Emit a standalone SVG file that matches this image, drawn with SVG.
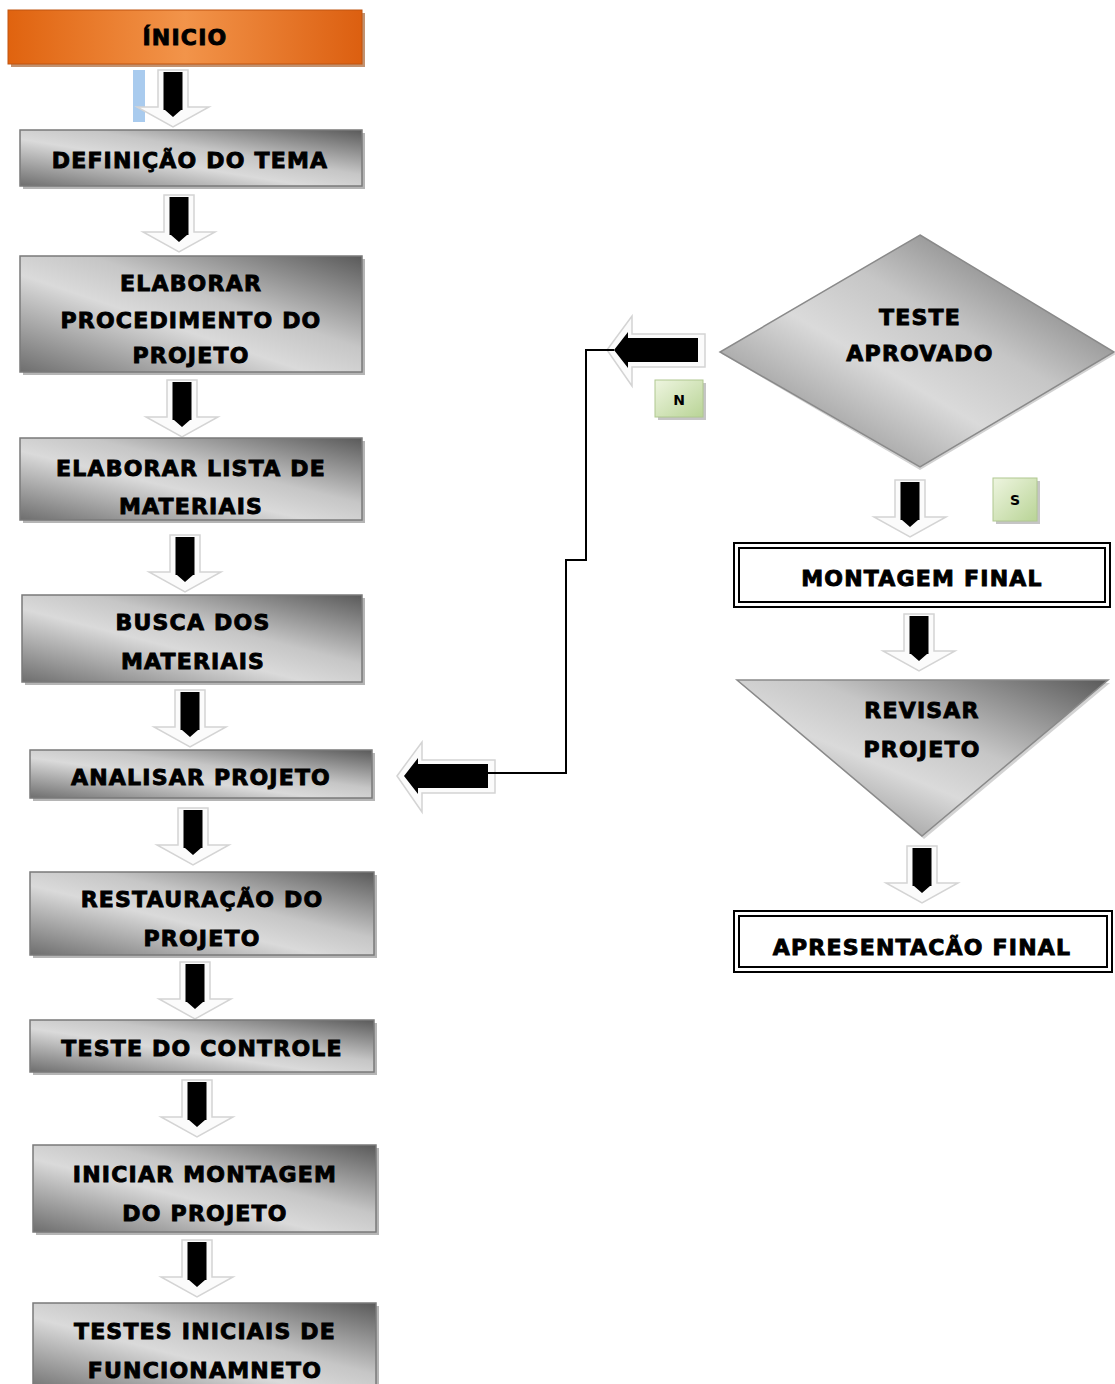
<svg xmlns="http://www.w3.org/2000/svg" width="1115" height="1384" viewBox="0 0 1115 1384">
<defs>
<linearGradient id="gray" x1="0" y1="1" x2="1" y2="0">
<stop offset="0" stop-color="#6e6e6e"/>
<stop offset="0.42" stop-color="#dadada"/>
<stop offset="0.6" stop-color="#c6c6c6"/>
<stop offset="1" stop-color="#5a5a5a"/>
</linearGradient>
<linearGradient id="orange" x1="0" y1="0" x2="1" y2="0">
<stop offset="0" stop-color="#e0630f"/>
<stop offset="0.5" stop-color="#f2944a"/>
<stop offset="1" stop-color="#dc5f10"/>
</linearGradient>
<linearGradient id="green" x1="0" y1="0" x2="1" y2="1">
<stop offset="0" stop-color="#eef5e0"/>
<stop offset="1" stop-color="#b9d496"/>
</linearGradient>
<g id="darr">
<path d="M-15,0 H15 V37 H36 L0,57 L-36,37 H-15 Z" fill="#fbfbfb" stroke="#d4d4d4" stroke-width="1.5"/>
<path d="M-9.5,2 H9.5 V40 H8 L0,47 L-8,40 H-9.5 Z" fill="#000"/>
</g>
<g id="larr">
<path d="M0,0 L25,-34 V-16 H98 V17 H25 V36 Z" fill="#fbfbfb" stroke="#d4d4d4" stroke-width="1.5"/>
<path d="M7,0 L21,-18 V-12 H91 V12 H21 V18 Z" fill="#000"/>
</g>
</defs>
<style>
.box{fill:url(#gray);stroke:#7a7a7a;stroke-width:1.5}
.sh{fill:#b5b5b5}
.t{font-family:"DejaVu Sans",Verdana,sans-serif;font-weight:bold;font-size:22px;fill:#000;stroke:#000;stroke-width:0.9;text-anchor:middle;letter-spacing:1.2px}
.s{font-family:"DejaVu Sans",sans-serif;font-weight:bold;font-size:14px;fill:#000;text-anchor:middle}
.dbl{fill:#fff;stroke:#000;stroke-width:2}
.ln{fill:none;stroke:#000;stroke-width:2}
</style>
<rect width="1115" height="1384" fill="#fff"/>

<g id="connectors">
<rect x="133" y="70" width="12" height="52" fill="#a9cbee"/>
<use href="#darr" x="173" y="70"/>
<use href="#darr" x="179" y="195"/>
<use href="#darr" x="182" y="380"/>
<use href="#darr" x="185" y="535"/>
<use href="#darr" x="190" y="690"/>
<use href="#darr" x="193" y="808"/>
<use href="#darr" x="195" y="962"/>
<use href="#darr" x="197" y="1080"/>
<use href="#darr" x="197" y="1240"/>
<use href="#darr" x="910" y="480"/>
<use href="#darr" x="919" y="614"/>
<use href="#darr" x="922" y="846"/>
<use href="#larr" x="607" y="350"/>
<use href="#larr" x="397" y="776"/>
<polyline class="ln" points="614,350 586,350 586,560 566,560 566,773 488,773"/>
</g>

<g id="inicio">
<rect x="11" y="13" width="354" height="54" fill="#9a4a10" opacity="0.6"/>
<rect x="8" y="10" width="354" height="54" fill="url(#orange)" stroke="#c05510" stroke-width="1"/>
<text class="t" x="185" y="45">ÍNICIO</text>
</g>
<g id="definicao">
<rect class="sh" x="23" y="133" width="342" height="56"/>
<rect class="box" x="20" y="130" width="342" height="56"/>
<text class="t" x="190" y="168">DEFINIÇÃO DO TEMA</text>
</g>
<g id="procedimento">
<rect class="sh" x="23" y="259" width="342" height="116"/>
<rect class="box" x="20" y="256" width="342" height="116"/>
<text class="t" x="191" y="291">ELABORAR</text>
<text class="t" x="191" y="328">PROCEDIMENTO  DO</text>
<text class="t" x="191" y="363">PROJETO</text>
</g>
<g id="lista">
<rect class="sh" x="23" y="441" width="342" height="82"/>
<rect class="box" x="20" y="438" width="342" height="82"/>
<text class="t" x="191" y="476">ELABORAR LISTA DE</text>
<text class="t" x="191" y="514">MATERIAIS</text>
</g>
<g id="busca">
<rect class="sh" x="25" y="598" width="340" height="87"/>
<rect class="box" x="22" y="595" width="340" height="87"/>
<text class="t" x="193" y="630">BUSCA DOS</text>
<text class="t" x="193" y="669">MATERIAIS</text>
</g>
<g id="analisar">
<rect class="sh" x="33" y="753" width="342" height="48"/>
<rect class="box" x="30" y="750" width="342" height="48"/>
<text class="t" x="201" y="785">ANALISAR PROJETO</text>
</g>
<g id="restauracao">
<rect class="sh" x="33" y="875" width="344" height="83"/>
<rect class="box" x="30" y="872" width="344" height="83"/>
<text class="t" x="202" y="907">RESTAURAÇÃO DO</text>
<text class="t" x="202" y="946">PROJETO</text>
</g>
<g id="teste-controle">
<rect class="sh" x="33" y="1023" width="344" height="52"/>
<rect class="box" x="30" y="1020" width="344" height="52"/>
<text class="t" x="202" y="1056">TESTE DO CONTROLE</text>
</g>
<g id="iniciar">
<rect class="sh" x="36" y="1148" width="343" height="87"/>
<rect class="box" x="33" y="1145" width="343" height="87"/>
<text class="t" x="205" y="1182">INICIAR MONTAGEM</text>
<text class="t" x="205" y="1221">DO PROJETO</text>
</g>
<g id="testes-iniciais">
<rect class="sh" x="36" y="1306" width="343" height="90"/>
<rect class="box" x="33" y="1303" width="343" height="90"/>
<text class="t" x="205" y="1339">TESTES INICIAIS DE</text>
<text class="t" x="205" y="1378">FUNCIONAMNETO</text>
</g>

<g id="teste-aprovado">
<polygon points="920,237 1116,354 920,470 722,354" fill="#bdbdbd" opacity="0.7"/>
<polygon points="920,235 1114,352 920,467 720,352" fill="url(#gray)" stroke="#8a8a8a" stroke-width="1.5"/>
<text class="t" x="920" y="325">TESTE</text>
<text class="t" x="920" y="361">APROVADO</text>
</g>
<g id="label-n">
<rect x="658" y="383" width="48" height="37" fill="#c5c5c5"/>
<rect x="655" y="380" width="48" height="37" fill="url(#green)" stroke="#b0c890" stroke-width="1"/>
<text class="s" x="679" y="405">N</text>
</g>
<g id="label-s">
<rect x="996" y="481" width="44" height="43" fill="#c5c5c5"/>
<rect x="993" y="478" width="44" height="43" fill="url(#green)" stroke="#b0c890" stroke-width="1"/>
<text class="s" x="1015" y="505">S</text>
</g>
<g id="montagem-final">
<rect class="dbl" x="734" y="543" width="376" height="64"/>
<rect class="dbl" x="739" y="548" width="366" height="54"/>
<text class="t" x="922" y="586">MONTAGEM FINAL</text>
</g>
<g id="revisar">
<polygon points="740,683 1110,683 924,839" fill="#c0c0c0" opacity="0.7"/>
<polygon points="737,680 1108,680 922,836" fill="url(#gray)" stroke="#8a8a8a" stroke-width="1.5"/>
<text class="t" x="922" y="718">REVISAR</text>
<text class="t" x="922" y="757">PROJETO</text>
</g>
<g id="apresentacao">
<rect class="dbl" x="734" y="911" width="378" height="61"/>
<rect class="dbl" x="739" y="916" width="368" height="51"/>
<text class="t" x="922" y="955">APRESENTACÃO FINAL</text>
</g>
</svg>
